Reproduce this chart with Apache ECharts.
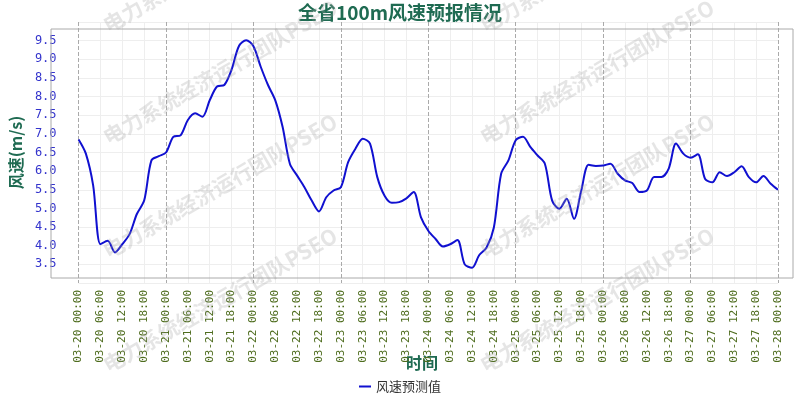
<!DOCTYPE html>
<html>
<head>
<meta charset="utf-8">
<script src="https://cdn.jsdelivr.net/npm/echarts@6/dist/echarts.min.js"></script>
<style>html,body{margin:0;padding:0;background:#fff}#main{width:800px;height:400px}</style>
</head>
<body>
<div id="main"></div>
<script>
// 2小时一个点, 03-20 00:00 ~ 03-28 00:00
const DAYS = ['03-20', '03-21', '03-22', '03-23', '03-24', '03-25', '03-26', '03-27', '03-28'];
const WIND = [
  6.85, 6.47, 5.62, 4.04, 4.13, 3.82, 4.04, 4.31, 4.85, 5.21, 6.29, 6.40, 6.50,
  6.92, 6.96, 7.37, 7.55, 7.46, 7.90, 8.27, 8.31, 8.72, 9.35, 9.51, 9.35,
  8.80, 8.31, 7.90, 7.19, 6.20, 5.88, 5.57, 5.21, 4.92, 5.30, 5.48, 5.57,
  6.24, 6.60, 6.87, 6.74, 5.84, 5.34, 5.15, 5.17, 5.27, 5.44, 4.76, 4.40,
  4.18, 3.98, 4.04, 4.15, 3.50, 3.41, 3.75, 3.95, 4.49, 5.93, 6.29, 6.83,
  6.92, 6.65, 6.42, 6.20, 5.21, 4.99, 5.26, 4.72, 5.48, 6.17, 6.14, 6.15,
  6.20, 5.93, 5.75, 5.68, 5.44, 5.48, 5.84, 5.84, 6.07, 6.74, 6.47, 6.36,
  6.45, 5.79, 5.70, 5.97, 5.87, 5.97, 6.13, 5.84, 5.70, 5.87, 5.66, 5.50
];
const Y_MIN = 3, Y_MAX = 10, Y_STEP = 0.5;

// 生成x轴
let times = [];
for (let i = 0; i < WIND.length; i++) {
  let h = i * 2;
  let day = DAYS[Math.floor(h / 24)];
  let hh = h % 24;
  times.push(`${day} ${hh < 10 ? '0' + hh : hh}:00`);
}

// 水印
const MARK_POS = [[220, -40], [220, 72], [220, 186], [220, 300], [597, -40], [597, 72], [597, 186], [597, 300]];
let marks = MARK_POS.map(p => ({
  type: 'text',
  x: p[0], y: p[1],
  rotation: Math.PI / 6,
  z: 100,
  style: {
    text: '电力系统经济运行团队PSEO',
    font: 'bold 21px "Noto Sans CJK SC"',
    fill: 'rgba(160,160,160,0.28)',
    align: 'center',
    verticalAlign: 'middle'
  },
  silent: true
}));
// 绘图区外框
marks.push({
  type: 'rect', z: 1, silent: true,
  shape: { x: 51, y: 29, width: 742, height: 249 },
  style: { fill: 'none', stroke: '#aaa', lineWidth: 1 }
});
// x轴名称
marks.push({
  type: 'text', x: 422, y: 363, silent: true,
  style: {
    text: '时间', font: 'bold 16px "Noto Sans CJK SC"', fill: '#1f6b52',
    align: 'center', verticalAlign: 'middle'
  }
});

const AXIS_NAME = { color: '#1f6b52', fontSize: 16, fontWeight: 'bold', fontFamily: 'Noto Sans CJK SC' };

let myChart = echarts.init(document.getElementById('main'));
myChart.setOption({
  animation: false,
  title: {
    text: '全省100m风速预报情况',
    left: 'center', top: -2,
    textStyle: { color: '#1f6b52', fontSize: 19, fontWeight: 'bold', fontFamily: 'Noto Sans CJK SC' }
  },
  legend: {
    bottom: 2, left: 'center',
    itemWidth: 12, itemHeight: 2, icon: 'rect',
    textStyle: { fontSize: 13, color: '#333', fontFamily: 'Noto Sans CJK SC' },
    data: ['风速预测值']
  },
  grid: { left: 66, right: 22, top: 22, bottom: 117 },
  xAxis: [{
    type: 'category',
    boundaryGap: false,
    data: times,
    axisLine: { show: false },
    axisTick: { show: false },
    axisLabel: { interval: 2, rotate: 90, margin: 7, color: '#4f6d1f', fontSize: 11, fontFamily: 'DejaVu Sans Mono' },
    splitLine: { show: true, interval: (i) => i % 12 === 0, lineStyle: { color: '#aaa', type: 'dashed' } }
  }, {
    // 6小时细网格
    type: 'category', position: 'bottom', boundaryGap: false, data: times,
    axisLine: { show: false }, axisTick: { show: false }, axisLabel: { show: false },
    splitLine: { show: true, interval: (i) => i % 3 === 0 && i % 12 !== 0, lineStyle: { color: '#eee' } }
  }],
  yAxis: {
    type: 'value',
    min: Y_MIN, max: Y_MAX, interval: Y_STEP,
    name: '风速(m/s)', nameLocation: 'middle', nameGap: 4, nameTextStyle: AXIS_NAME,
    axisLine: { show: false },
    axisTick: { show: false },
    axisLabel: {
      margin: 22, color: '#3333cc', fontSize: 12, fontFamily: 'DejaVu Sans Mono',
      formatter: v => (v === Y_MIN || v === Y_MAX) ? '' : v.toFixed(1)
    },
    splitLine: { lineStyle: { color: '#eee' } }
  },
  series: [{
    name: '风速预测值',
    type: 'line',
    data: WIND,
    smooth: 0.3,
    symbol: 'none',
    color: '#1010d0',
    lineStyle: { width: 2 }
  }],
  graphic: marks
});
</script>
</body>
</html>
